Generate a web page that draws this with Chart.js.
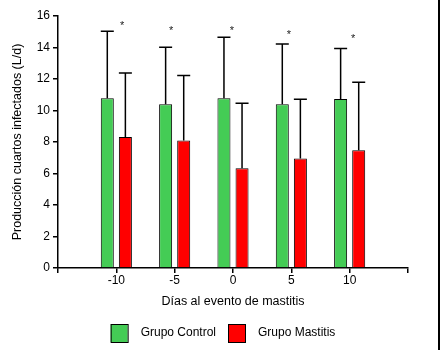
<!DOCTYPE html>
<html>
<head>
<meta charset="utf-8">
<script src="https://cdn.jsdelivr.net/npm/chart.js@4.4.1/dist/chart.umd.min.js"></script>
<style>
  html, body { margin: 0; padding: 0; background: #fff; }
  #wrap { width: 440px; height: 350px; }
</style>
</head>
<body>
<div id="wrap"><canvas id="grafico" width="440" height="350"></canvas></div>
<script>
// datos
const dias = [-10, -5, 0, 5, 10];
const control = [10.77, 10.39, 10.77, 10.39, 10.73];
const controlDE = [4.26, 3.62, 3.88, 3.83, 3.21];   // desviacion hacia arriba
const mastitis = [8.32, 8.10, 6.33, 6.96, 7.47];
const mastitisDE = [4.06, 4.13, 4.13, 3.75, 4.32];
const asteriscoX = [-9.5, -5.3, -0.1, 4.8, 10.3];
const asteriscoY = [15.5, 15.2, 15.2, 14.9, 14.7];
const ticksY = [0, 2, 4, 6, 8, 10, 12, 14, 16];

const fuente = '"Liberation Sans", Arial, sans-serif';

const desvios = [controlDE, mastitisDE];

const barrasError = {
    id: 'barrasError',
    afterDatasetsDraw(chart) {
        const ctx = chart.ctx;
        const y = chart.scales.y;
        ctx.save();
        ctx.strokeStyle = '#000';
        ctx.lineWidth = 1.5;
        chart.data.datasets.forEach((ds, i) => {
            const meta = chart.getDatasetMeta(i);
            meta.data.forEach((bar, j) => {
                const top = y.getPixelForValue(ds.data[j].y + desvios[i][j]);
                const half = bar.width / 2;
                ctx.beginPath();
                ctx.moveTo(bar.x, bar.y);
                ctx.lineTo(bar.x, top);
                ctx.moveTo(bar.x - half, top);
                ctx.lineTo(bar.x + half, top);
                ctx.stroke();
            });
        });
        // asteriscos de significancia
        ctx.fillStyle = '#222';
        ctx.font = '11px ' + fuente;
        ctx.textAlign = 'center';
        ctx.textBaseline = 'middle';
        asteriscoX.forEach((v, k) => {
            ctx.fillText('*', chart.scales.x.getPixelForValue(v), y.getPixelForValue(asteriscoY[k]) + 2);
        });
        ctx.restore();
    }
};

const leyenda = {
    id: 'leyenda',
    afterDraw(chart) {
        const ctx = chart.ctx;
        ctx.save();
        ctx.font = '12px ' + fuente;
        ctx.textBaseline = 'middle';
        ctx.textAlign = 'left';
        const items = chart.data.datasets;
        const caja = 17, gap = 13, sep = 12;
        let total = 0;
        items.forEach((ds, i) => {
            total += caja + gap + ctx.measureText(ds.label).width;
            if (i < items.length - 1) total += sep;
        });
        let x = 223 - total / 2;
        const yc = 333;
        items.forEach(ds => {
            ctx.fillStyle = ds.backgroundColor;
            ctx.fillRect(x, yc - 9, caja, 18);
            ctx.strokeStyle = '#000';
            ctx.lineWidth = 1;
            ctx.strokeRect(x + 0.5, yc - 8.5, caja, 18);
            x += caja + gap;
            ctx.fillStyle = '#000';
            ctx.fillText(ds.label, x, yc);
            x += ctx.measureText(ds.label).width + sep;
        });
        // borde derecho de la imagen
        ctx.fillStyle = '#000';
        ctx.fillRect(438, 0, 2, 350);
        ctx.restore();
    }
};

new Chart(document.getElementById('grafico'), {
    type: 'bar',
    data: {
        datasets: [
            {
                label: 'Grupo Control',
                data: dias.map((d, i) => ({ x: d, y: control[i] })),
                backgroundColor: '#44cc55',
                borderColor: '#000',
                borderWidth: 1
            },
            {
                label: 'Grupo Mastitis',
                data: dias.map((d, i) => ({ x: d, y: mastitis[i] })),
                backgroundColor: '#ff0000',
                borderColor: '#000',
                borderWidth: 1
            }
        ]
    },
    options: {
        responsive: false,
        animation: false,
        categoryPercentage: 0.62,
        barPercentage: 0.72,
        layout: { padding: { top: 16, right: 32, bottom: 41, left: 0 } },
        plugins: {
            legend: { display: false },
            tooltip: { enabled: false }
        },
        scales: {
            x: {
                type: 'linear',
                min: -15,
                max: 15,
                offset: false,
                afterBuildTicks(scale) {
                    scale.ticks = [-15, -10, -5, 0, 5, 10, 15].map(v => ({ value: v }));
                },
                ticks: {
                    color: '#000',
                    font: { family: fuente, size: 12 },
                    padding: 0,
                    maxRotation: 0,
                    callback: v => (Math.abs(v) === 15 ? '' : v)
                },
                grid: { offset: false, drawOnChartArea: false, color: '#000', tickLength: 5, lineWidth: 1.5 },
                border: { color: '#000', width: 1.5 },
                title: {
                    display: true,
                    text: 'Días al evento de mastitis',
                    color: '#000',
                    font: { family: fuente, size: 12.5 },
                    padding: { top: 1, bottom: 0 }
                },
                afterFit(scale) { scale.height = 41; }
            },
            y: {
                min: 0,
                max: 16,
                afterBuildTicks(scale) {
                    scale.ticks = ticksY.map(v => ({ value: v }));
                },
                ticks: {
                    color: '#000',
                    font: { family: fuente, size: 12 },
                    padding: 3
                },
                grid: { drawOnChartArea: false, color: '#000', tickLength: 5, lineWidth: 1.5 },
                border: { color: '#000', width: 1.5 },
                title: {
                    display: true,
                    text: 'Producción cuartos infectados (L/d)',
                    color: '#000',
                    font: { family: fuente, size: 12.5 },
                    padding: { top: 10, bottom: 0 }
                },
                afterFit(scale) { scale.width = 58; }
            }
        }
    },
    plugins: [barrasError, leyenda]
});
</script>
</body>
</html>
